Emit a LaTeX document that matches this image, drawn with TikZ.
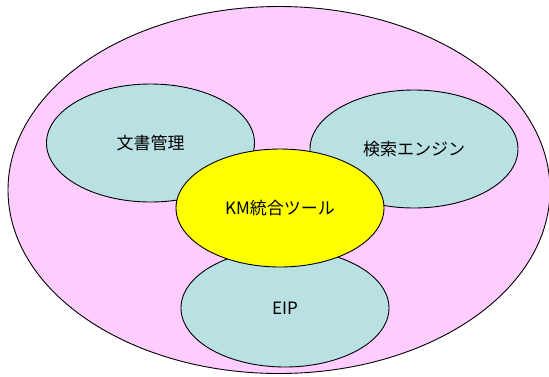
\documentclass[tikz,border=0pt]{standalone}
\usepackage{fontspec}
\setmainfont{Noto Sans CJK JP}
\usetikzlibrary{shapes.geometric}
\definecolor{bgpink}{HTML}{FFCCFF}
\definecolor{teal}{HTML}{B9E0E2}
\definecolor{yel}{HTML}{FFFF00}
\tikzset{
  blob/.style={ellipse, draw=black, line width=0.9pt, inner sep=0pt, minimum width=208pt, minimum height=118pt, font=\fontsize{17}{20}\selectfont},
  sub/.style={blob, fill=teal},
}
\begin{document}
\begin{tikzpicture}[x=1pt,y=-1pt]
\useasboundingbox (0,0) rectangle (549,376);
\begin{scope}
\clip (0,0) rectangle (549,376);
\node[ellipse, draw=black, line width=0.9pt, fill=bgpink, inner sep=0pt, minimum width=542pt, minimum height=367pt] (outer) at (279,190) {};
\end{scope}
\node[sub] (doc) at (150.5,143) {文書管理};
\node[sub] (search) at (414,149) {検索エンジン};
\node[sub] (eip) at (285,308) {EIP};
\node[blob, fill=yel] (km) at (280,208) {KM統合ツール};
\end{tikzpicture}
\end{document}
